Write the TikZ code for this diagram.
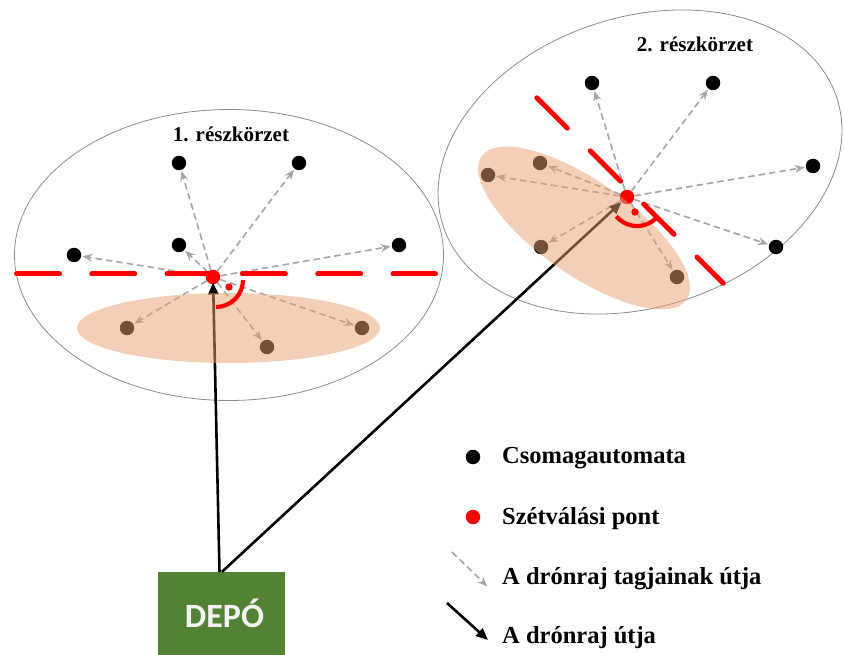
\documentclass[tikz,border=0pt]{standalone}
\usepackage{fontspec}
\setmainfont{Liberation Serif}
\newfontfamily\depotfont{Carlito}
\usetikzlibrary{arrows.meta}

\definecolor{splitred}{RGB}{255,0,0}
\definecolor{swarmgray}{RGB}{166,166,166}
\definecolor{zoneline}{RGB}{140,140,140}
\definecolor{clusterfill}{RGB}{232,160,112}
\definecolor{depotgreen}{RGB}{84,130,53}
\definecolor{depottext}{RGB}{242,242,242}

\begin{document}
\begin{tikzpicture}[x=1pt,y=-1pt,
  zone/.style={draw=zoneline, line width=0.8pt},
  locker/.style={circle, fill=black, inner sep=0pt, minimum size=14.5pt},
  splitpt/.style={circle, fill=splitred, inner sep=0pt, minimum size=14.5pt},
  memberpath/.style={draw=swarmgray, line width=1.6pt, dash pattern=on 6.5pt off 4pt,
    -{Stealth[length=10pt,width=8pt]}, shorten >=1pt},
  swarmpath/.style={draw=black, line width=2.6pt, -{Triangle[length=12pt,width=10pt]}},
  cluster/.style={fill=clusterfill, fill opacity=0.5},
  divide/.style={draw=splitred, line width=5pt, line cap=round, dash pattern=on 43pt off 32.3pt},
  rightangle/.style={draw=splitred, line width=4.2pt},
  zonelabel/.style={font=\bfseries\fontsize{21}{25}\selectfont, anchor=base, inner sep=0pt},
  legendtext/.style={font=\bfseries\fontsize{24.5}{29}\selectfont, anchor=base west, inner sep=0pt},
  depotbox/.style={fill=depotgreen, minimum width=127pt, minimum height=83pt, inner sep=0pt,
    text=depottext, font=\depotfont\bfseries\fontsize{34}{40}\selectfont},
]
\useasboundingbox (0,0) rectangle (844,655);

% sub-district outlines
\draw[zone] (229,255) ellipse [x radius=214.5pt, y radius=145.5pt];
\draw[zone, rotate around={18:(640,162)}] (640,162) ellipse [x radius=207pt, y radius=145pt];

% parcel lockers, district 1
\node[locker] (a1) at (179,163) {};
\node[locker] (a2) at (299,163) {};
\node[locker] (a3) at (179,245) {};
\node[locker] (a4) at (74,255) {};
\node[locker] (a5) at (399,245) {};
\node[locker] (a6) at (127,328) {};
\node[locker] (a7) at (267,347) {};
\node[locker] (a8) at (362,328) {};

% parcel lockers, district 2
\node[locker] (b1) at (592,83) {};
\node[locker] (b2) at (713,83) {};
\node[locker] (b3) at (813,166) {};
\node[locker] (b4) at (776,247) {};
\node[locker] (b5) at (540,163) {};
\node[locker] (b6) at (488,175) {};
\node[locker] (b7) at (541,247) {};
\node[locker] (b8) at (677,277) {};

% split points
\node[splitpt] (s1) at (213,277) {};
\node[splitpt] (s2) at (627,197) {};

% paths of the swarm members
\foreach \t in {a1,a2,a3,a4,a5,a6,a7,a8} \draw[memberpath] (s1) -- (\t);
\foreach \t in {b1,b2,b3,b4,b5,b6,b7,b8} \draw[memberpath] (s2) -- (\t);

% depot
\node[depotbox] (depot) at (221.5,613.5) {\hspace*{6pt}DEPÓ};

% path of the whole swarm
\draw[swarmpath, shorten >=-2pt] ([xshift=-2pt]depot.north) -- (s1);
\draw[swarmpath] ([xshift=0.5pt]depot.north) -- (s2);

% highlighted groups
\fill[cluster] (228.5,328) ellipse [x radius=151.5pt, y radius=35pt];
\fill[cluster, rotate around={-35:(584,228)}] (584,228) ellipse [x radius=125pt, y radius=47pt];

% dividing lines
\draw[divide] (16.5,274) -- (435.5,274);
\draw[divide] (536.8,97.8) -- (723.2,283.2);

% right angle marks
\draw[rightangle] (243,280) arc[start angle=0, end angle=-90, radius=27pt];
\fill[splitred] (229,287) circle[radius=3.7pt];
\draw[rightangle] (657.7,216.4) arc[start angle=-40, end angle=-140, radius=27pt];
\fill[splitred] (635,212) circle[radius=3.7pt];

% district labels
\node[zonelabel] (z1) at (231,142) {1. részkörzet};
\node[zonelabel] (z2) at (695,52) {2. részkörzet};

% legend
\node[locker] (l1) at (473,457) {};
\node[legendtext] (t1) at (502,463) {Csomagautomata};
\node[splitpt] (l2) at (473,517) {};
\node[legendtext] (t2) at (502,524) {Szétválási pont};
\coordinate (l3a) at (452,552);
\coordinate (l3b) at (488,587);
\draw[memberpath] (l3a) -- (l3b);
\node[legendtext] (t3) at (502,584) {A drónraj tagjainak útja};
\coordinate (l4a) at (447,603);
\coordinate (l4b) at (488,640);
\draw[swarmpath] (l4a) -- (l4b);
\node[legendtext] (t4) at (502,643) {A drónraj útja};
\end{tikzpicture}
\end{document}
